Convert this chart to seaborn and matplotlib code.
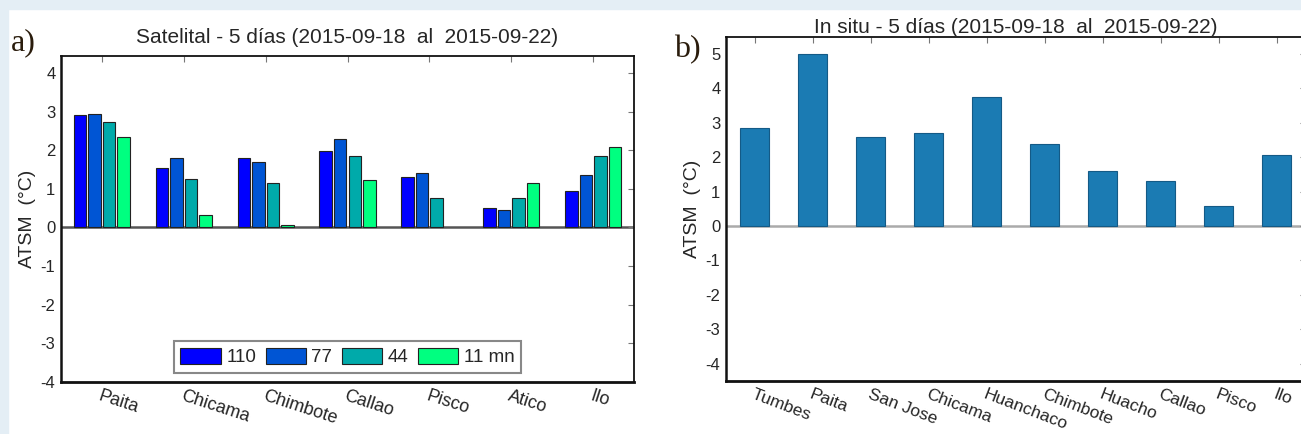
import matplotlib

matplotlib.use('Agg')
import matplotlib.pyplot as plt
import seaborn as sns
import pandas as pd
from matplotlib.patches import Rectangle

sns.set_style('white')
plt.rcParams['font.family'] = ['Liberation Sans', 'DejaVu Sans']
plt.rcParams['axes.unicode_minus'] = False

# --- datos panel a) satelital, anomalias por distancia a la costa
sat_estaciones = ['Paita', 'Chicama', 'Chimbote', 'Callao', 'Pisco', 'Atico', 'Ilo']
sat_distancias = ['110', '77', '44', '11 mn']
sat_110 = [2.90, 1.55, 1.81, 1.97, 1.31, 0.49, 0.94]
sat_77 = [2.94, 1.79, 1.70, 2.29, 1.42, 0.44, 1.37]
sat_44 = [2.72, 1.26, 1.14, 1.85, 0.75, 0.75, 1.85]
sat_11 = [2.33, 0.33, 0.05, 1.23, None, 1.15, 2.09]
sat_colores = ['#0000ff', '#0055d4', '#00aaaa', '#00ff80']  # winter

# --- datos panel b) in situ
ins_estaciones = ['Tumbes', 'Paita', 'San Jose', 'Chicama', 'Huanchaco',
                  'Chimbote', 'Huacho', 'Callao', 'Pisco', 'Ilo']
ins_valores = [2.86, 5.00, 2.58, 2.69, 3.76, 2.38, 1.60, 1.31, 0.57, 2.05]
ins_color = '#1b7bb3'

titulo_a = 'Satelital - 5 días (2015-09-18  al  2015-09-22)'
titulo_b = 'In situ - 5 días (2015-09-18  al  2015-09-22)'
ylab = 'ATSM  (°C)'

rows = []
for d, vals in zip(sat_distancias, [sat_110, sat_77, sat_44, sat_11]):
    for est, v in zip(sat_estaciones, vals):
        rows.append({'estacion': est, 'dist': d, 'atsm': v})
df_sat = pd.DataFrame(rows).dropna()
df_ins = pd.DataFrame({'estacion': ins_estaciones, 'atsm': ins_valores})

fig = plt.figure(figsize=(13.01, 4.34), dpi=100)
fig.patches.append(Rectangle((0, 1 - 9 / 434), 1, 9 / 434, transform=fig.transFigure,
                             color='#e4eef5', zorder=0))
fig.patches.append(Rectangle((0, 0), 8 / 1301, 1, transform=fig.transFigure,
                             color='#e4eef5', zorder=0))

ax1 = fig.add_axes([61 / 1301, 1 - 381.7 / 434, 573 / 1301, 326 / 434])
ax2 = fig.add_axes([726 / 1301, 1 - 381 / 434, 580 / 1301, 344.3 / 434])


def estilo(ax, rot, fs):
    for s in ax.spines.values():
        s.set_visible(True)
        s.set_color('#111111')
        s.set_linewidth(1.3)
    ax.spines['bottom'].set_linewidth(2)
    ax.spines['left'].set_linewidth(1.8)
    ax.tick_params(direction='in', top=True, right=True, length=4, width=0.8,
                   color='#777777', labelsize=12, pad=4)
    ax.set_xlabel('')
    ax.set_ylabel(ylab, fontsize=14, labelpad=3)
    for lab in ax.get_xticklabels():
        lab.set_rotation(rot)
        lab.set_ha('left')
        lab.set_va('top')
        lab.set_rotation_mode('anchor')
        lab.set_fontsize(fs)


# a) satelital
sns.barplot(data=df_sat, x='estacion', y='atsm', hue='dist', order=sat_estaciones,
            hue_order=sat_distancias, palette=sat_colores, saturation=1, width=0.71,
            gap=0.14, errorbar=None, edgecolor='#222222', linewidth=0.8, ax=ax1)
ax1.axhline(0, color='#555555', lw=1.8, zorder=0.5)
ax1.set_xlim(-0.5, 6.5)
ax1.set_ylim(-4, 4.45)
ax1.set_yticks(range(-4, 5))
estilo(ax1, -18, 13)
ax1.set_title(titulo_a, fontsize=15, pad=9)
leg = ax1.legend(ncol=4, loc='lower center', bbox_to_anchor=(0.5, 0.027),
                 borderaxespad=0, fontsize=13.5, handlelength=2.15, handleheight=1.0,
                 handletextpad=0.3, columnspacing=0.5, borderpad=0.35,
                 fancybox=False, framealpha=1, edgecolor='#888888')
leg.get_frame().set_linewidth(1.5)

# b) in situ
sns.barplot(data=df_ins, x='estacion', y='atsm', order=ins_estaciones, color=ins_color,
            saturation=1, width=0.5, errorbar=None, edgecolor='#145a86', linewidth=0.8,
            ax=ax2)
ax2.axhline(0, color='#aaaaaa', lw=1.8, zorder=0.5)
ax2.set_xlim(-0.5, 9.5)
ax2.set_ylim(-4.5, 5.5)
ax2.set_yticks(range(-4, 6))
estilo(ax2, -21, 12.5)
ax2.set_title(titulo_b, fontsize=15, pad=3)

fig.text(11 / 1301, 1 - 50 / 434, 'a)', family=['Liberation Serif', 'DejaVu Serif'],
         fontsize=23, color='#2a1c0c')
fig.text(674 / 1301, 1 - 57 / 434, 'b)', family=['Liberation Serif', 'DejaVu Serif'],
         fontsize=23, color='#2a1c0c')

fig.savefig('out.png', dpi=100, facecolor='white')
